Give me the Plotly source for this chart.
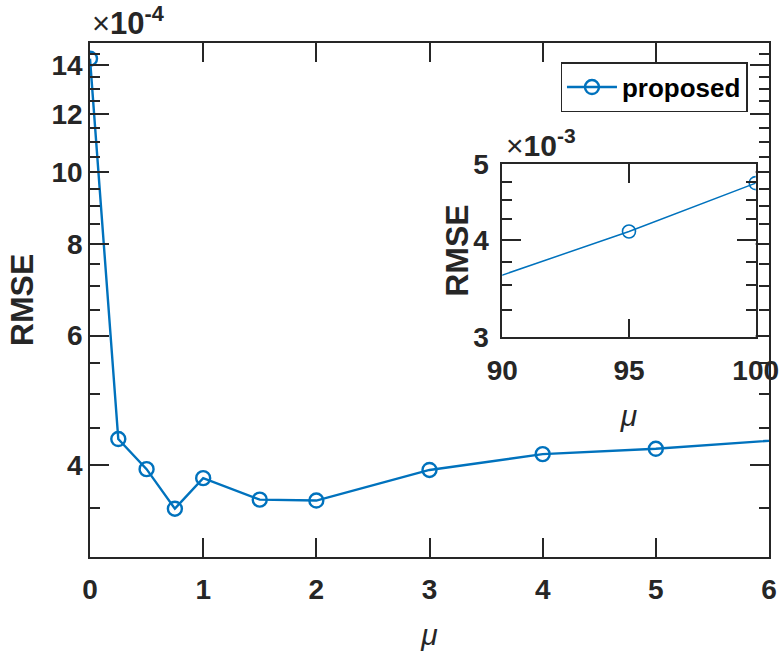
import plotly.graph_objects as go
import math

# ---- data ----
mu = [0, 0.25, 0.5, 0.75, 1, 1.5, 2, 3, 4, 5, 10, 85, 95, 100]
rmse = [1.428e-3, 4.34e-4, 3.95e-4, 3.49e-4, 3.84e-4, 3.59e-4, 3.58e-4,
        3.94e-4, 4.14e-4, 4.21e-4, 4.77e-4, 3.17e-3, 4.10e-3, 4.73e-3]
series_name = "proposed"

main_x_ticks = [0, 1, 2, 3, 4, 5, 6]
main_y_ticks = [4e-4, 6e-4, 8e-4, 10e-4, 12e-4, 14e-4]
main_y_ticktext = ["4", "6", "8", "10", "12", "14"]
main_y_minor = [v * 1e-4 for v in [3.5, 4.5, 5, 5.5, 6.5, 7, 7.5, 8.5, 9, 9.5,
                                   10.5, 11, 11.5, 12.5, 13, 13.5, 14.5]]
inset_x_ticks = [90, 95, 100]
inset_y_ticks = [3e-3, 4e-3, 5e-3]
inset_y_ticktext = ["3", "4", "5"]
inset_y_minor = [3.25e-3, 3.5e-3, 3.75e-3, 4.25e-3, 4.5e-3, 4.75e-3]

BLUE = "#0072BD"
AX = "#262626"
FONT = "Liberation Sans"

fig = go.Figure()
fig.add_trace(go.Scatter(
    x=mu, y=rmse, name=series_name, mode="lines+markers",
    line=dict(color=BLUE, width=2.4),
    marker=dict(symbol="circle-open", size=14, color=BLUE, line=dict(width=2.4, color=BLUE)),
    xaxis="x", yaxis="y", showlegend=True))
fig.add_trace(go.Scatter(
    x=mu, y=rmse, name=series_name, mode="lines+markers",
    line=dict(color=BLUE, width=1.5),
    marker=dict(symbol="circle-open", size=13, color=BLUE, line=dict(width=1.6, color=BLUE)),
    xaxis="x2", yaxis="y2", showlegend=False))

tickfont = dict(family=FONT, size=28, color=AX, weight="bold")
common = dict(showline=True, linecolor=AX, linewidth=1.5, mirror="allticks",
              ticks="inside", tickcolor=AX, tickwidth=1.5, showgrid=False,
              zeroline=False, tickfont=tickfont, automargin=False,
              ticklabeloverflow="allow")
mu_font = dict(family=FONT, size=30, color=AX, style="italic")
rmse_font = dict(family=FONT, size=32, color=AX, weight="bold")

fig.update_layout(
    width=779, height=656,
    margin=dict(l=90, r=10, t=43, b=99),
    paper_bgcolor="white", plot_bgcolor="white",
    xaxis=dict(domain=[0, 1], range=[0, 6], tickvals=main_x_ticks, ticklen=19,
               ticklabelstandoff=7,
               title=dict(text="μ", font=mu_font, standoff=20),
               anchor="y", **common),
    yaxis=dict(domain=[0, 1], type="log", range=[math.log10(3e-4), math.log10(1.5e-3)],
               tickvals=main_y_ticks, ticktext=main_y_ticktext, ticklen=19,
               minor=dict(tickvals=main_y_minor, ticks="inside", ticklen=10, tickcolor=AX, tickwidth=1.5),
               title=dict(text="RMSE", font=rmse_font, standoff=8),
               ticklabelstandoff=0, anchor="x", **common),
    xaxis2=dict(domain=[0.6072, 0.9804], range=[90, 100], tickvals=inset_x_ticks, ticklen=19,
                ticklabelstandoff=7,
                title=dict(text="μ", font=mu_font, standoff=20),
                anchor="y2", **common),
    yaxis2=dict(domain=[0.4274, 0.764], type="log", range=[math.log10(3e-3), math.log10(5e-3)],
                tickvals=inset_y_ticks, ticktext=inset_y_ticktext, ticklen=19,
                minor=dict(tickvals=inset_y_minor, ticks="inside", ticklen=10, tickcolor=AX, tickwidth=1.5),
                ticklabelstandoff=6, anchor="x2", **common),
    legend=dict(x=0.9686, y=0.9624, xanchor="right", yanchor="top",
                bgcolor="white", bordercolor=AX, borderwidth=1.3, itemwidth=50,
                font=dict(family=FONT, size=26, color="black", weight="bold")),
    annotations=[
        dict(text="RMSE", xref="x2 domain", yref="y2 domain", x=-0.179, y=0.5,
             xanchor="center", yanchor="middle", textangle=-90, showarrow=False,
             font=rmse_font),
        dict(text="×<b>10<sup>-4</sup></b>", xref="paper", yref="paper", x=0.0, y=1.0,
             xanchor="left", yanchor="bottom", showarrow=False, xshift=0, yshift=0,
             font=dict(family=FONT, size=31, color=AX)),
        dict(text="×<b>10<sup>-3</sup></b>", xref="x2 domain", yref="y2 domain", x=0.0, y=1.0,
             xanchor="left", yanchor="bottom", showarrow=False, xshift=2, yshift=0,
             font=dict(family=FONT, size=30, color=AX)),
    ],
)

fig.write_html("out.html")
